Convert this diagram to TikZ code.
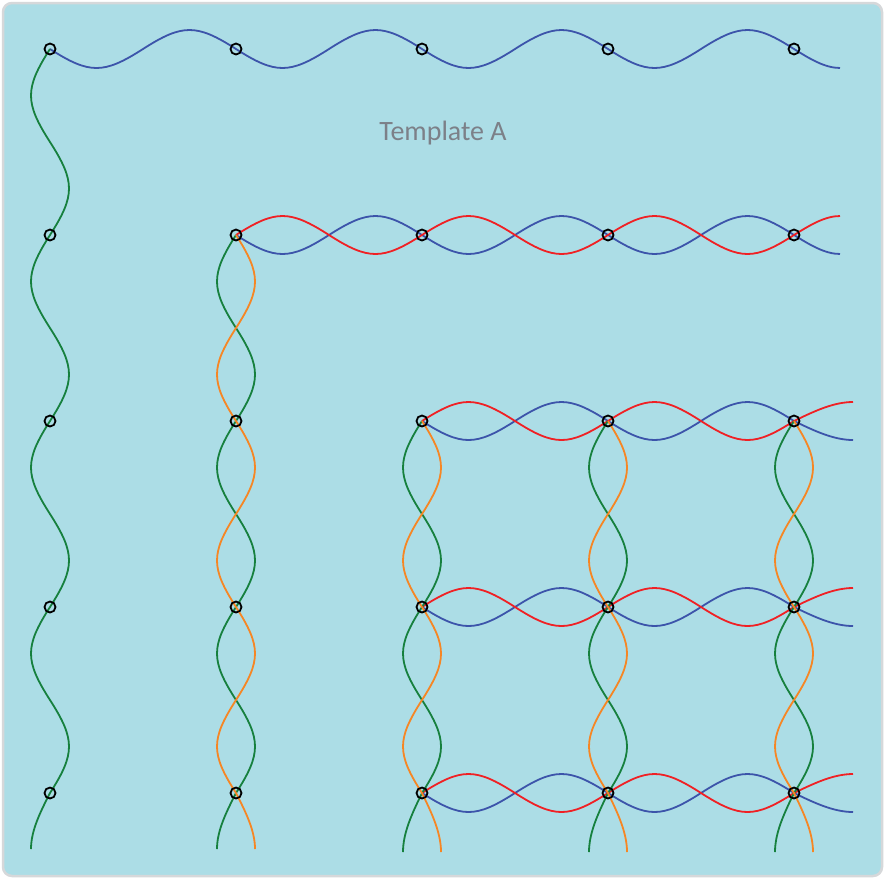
\documentclass[tikz,border=0pt]{standalone}
\usepackage{fontspec}
\setmainfont{Carlito}
\pgfdeclarelayer{bg}
\pgfdeclarelayer{strands}
\pgfsetlayers{bg,strands,main}
\definecolor{paper}{RGB}{172,221,230}
\definecolor{frame}{RGB}{214,216,218}
\definecolor{sblue}{RGB}{60,84,170}
\definecolor{sred}{RGB}{240,32,36}
\definecolor{sgreen}{RGB}{22,128,62}
\definecolor{sorange}{RGB}{246,134,36}
\definecolor{titlegray}{RGB}{124,128,136}

\begin{document}
\begin{tikzpicture}[x=1pt, y=-1pt,
  dot/.style={circle, draw=black, line width=1.8pt, minimum size=11pt, inner sep=0pt},
  strand/.style={line width=1.8pt}]
\useasboundingbox (0,0) rectangle (885,879);
\begin{pgfonlayer}{bg}
\fill[white] (0,0) rectangle (885,879);
\draw[frame, line width=2.5pt, fill=paper, rounded corners=9pt] (3,3) rectangle (882,876);
\end{pgfonlayer}
% crossing points p<column><row>
\foreach \i in {1,...,5}
  \foreach \j in {1,...,5}
    \node[dot] (p\i\j) at ({50+186*(\i-1)}, {49+186*(\j-1)}) {};
\node[text=titlegray, font=\fontsize{28}{33}\selectfont] (title) at (443,133) {Template A};
\begin{pgfonlayer}{strands}
% horizontal strands: row/first column/amplitude/tail/colour
\foreach \r/\f/\a/\t/\col in {1/1/19/46/sblue, 2/2/19/46/sblue, 2/2/-19/46/sred,
    3/3/19/59/sblue, 3/3/-19/59/sred, 4/3/19/59/sblue, 4/3/-19/59/sred,
    5/3/19/59/sblue, 5/3/-19/59/sred}
  \draw[strand, \col] (p\f\r.center)
    \foreach \c [evaluate=\c as \n using int(\c+1)] in {\f,...,4} {
      .. controls +(39.5,4/3*\a) and +(-39.5,4/3*\a) .. ++(93,0)
      .. controls +(39.5,-4/3*\a) and +(-39.5,-4/3*\a) .. (p\n\r.center) }
    .. controls +(\t/3,\a/2) and +(-\t/3,0) .. ++(\t,\a);
% vertical strands: column/first row/amplitude/tail/colour
\foreach \c/\f/\a/\t/\col in {1/1/-19/56/sgreen, 2/2/-19/56/sgreen, 2/2/19/56/sorange,
    3/3/-19/59/sgreen, 3/3/19/59/sorange, 4/3/-19/59/sgreen, 4/3/19/59/sorange,
    5/3/-19/59/sgreen, 5/3/19/59/sorange}
  \draw[strand, \col] (p\c\f.center)
    \foreach \r [evaluate=\r as \n using int(\r+1)] in {\f,...,4} {
      .. controls +(4/3*\a,39.5) and +(4/3*\a,-39.5) .. ++(0,93)
      .. controls +(-4/3*\a,39.5) and +(-4/3*\a,-39.5) .. (p\c\n.center) }
    .. controls +(\a/2,\t/3) and +(0,-\t/3) .. ++(\a,\t);
\end{pgfonlayer}
\end{tikzpicture}
\end{document}
